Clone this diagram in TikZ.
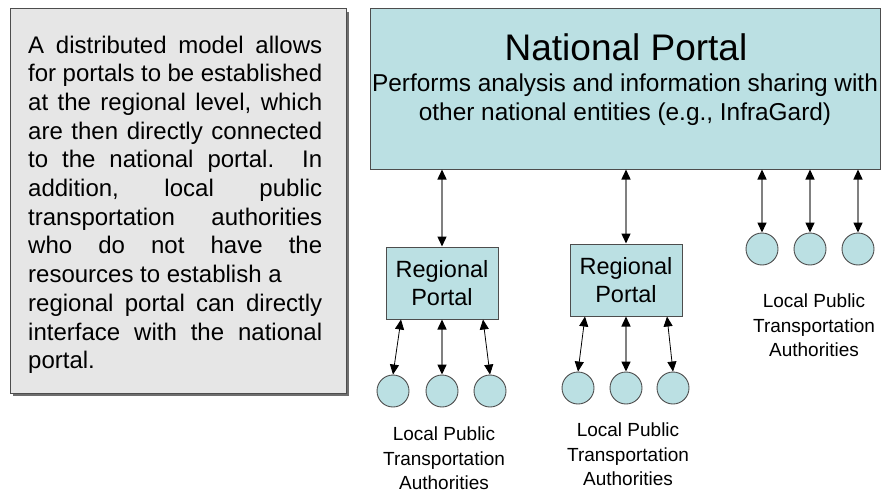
\documentclass[tikz,border=0pt]{standalone}
\usepackage{fontspec}
\setmainfont{Liberation Sans}
\usetikzlibrary{arrows.meta,shadows}
\definecolor{portalfill}{RGB}{187,224,227}
\definecolor{boxline}{RGB}{77,77,77}
\definecolor{notefill}{RGB}{230,230,230}
\definecolor{shadowgray}{RGB}{110,110,110}
\definecolor{linkgray}{RGB}{128,128,128}
\tikzset{
  notebox/.style={draw=boxline, fill=notefill, line width=1pt, inner sep=0pt,
    drop shadow={shadow xshift=3pt, shadow yshift=-3pt, fill=shadowgray, opacity=1}},
  portal/.style={draw=boxline, fill=portalfill, line width=1pt, inner sep=0pt},
  lpta/.style={circle, draw=boxline, fill=portalfill, line width=0.9pt, minimum size=32pt, inner sep=0pt},
  link/.style={draw=linkgray, line width=1.4pt,
    {Triangle[length=10pt,width=9pt,color=black]}-{Triangle[length=10pt,width=9pt,color=black]}},
  slant/.style={link, draw=black, line width=0.8pt},
  txt/.style={inner sep=0pt, font=\fontsize{23.5}{27}\selectfont},
  nattxt/.style={inner sep=0pt, font=\fontsize{24.4}{28}\selectfont},
  lbl/.style={inner sep=0pt, align=center, font=\fontsize{19}{24.5}\selectfont},
}
\begin{document}
\begin{tikzpicture}[x=1pt,y=-1pt]
\useasboundingbox (0,0) rectangle (886,495);

% left note
\node[notebox, minimum width=336pt, minimum height=384pt] (note) at (178,201) {};
\node[anchor=base west, inner sep=0pt] (notetext) at (28,53) {\vtop{\hsize=294pt\fontsize{24}{28.7}\selectfont
\hbox to 294pt{A\hfil distributed\hfil model\hfil allows}
\hbox to 294pt{for\hfil portals\hfil to\hfil be\hfil established}
\hbox to 294pt{at\hfil the\hfil regional\hfil level,\hfil which}
\hbox to 294pt{are\hfil then\hfil directly\hfil connected}
\hbox to 294pt{to\hfil the\hfil national\hfil portal.\hfil\hfil In}
\hbox to 294pt{addition,\hfil local\hfil public}
\hbox to 294pt{transportation\hfil authorities}
\hbox to 294pt{who\hfil do\hfil not\hfil have\hfil the}
\hbox{resources to establish a}
\hbox to 294pt{regional\hfil portal\hfil can\hfil directly}
\hbox to 294pt{interface\hfil with\hfil the\hfil national}
\hbox{portal.}}};

% national portal
\node[portal, minimum width=510pt, minimum height=160pt] (nat) at (625,89) {};
\node[inner sep=0pt, font=\fontsize{37}{41}\selectfont, anchor=base] (natT) at (626,60) {National Portal};
\node[nattxt, anchor=base] (natL1) at (625,92) {Performs analysis and information sharing with};
\node[nattxt, anchor=base] (natL2) at (625,120) {other national entities (e.g., InfraGard)};

% regional portals
\node[portal, minimum width=112pt, minimum height=72pt] (r1) at (442,283) {};
\node[txt, anchor=base] (r1a) at (442,277) {Regional};
\node[txt, anchor=base] (r1b) at (442,305) {Portal};
\node[portal, minimum width=112pt, minimum height=72pt] (r2) at (626,280) {};
\node[txt, anchor=base] (r2a) at (626,274) {Regional};
\node[txt, anchor=base] (r2b) at (626,302) {Portal};

% local authorities
\node[lpta] (a1) at (393,391) {};
\node[lpta] (a2) at (442,391) {};
\node[lpta] (a3) at (490,391) {};
\node[lpta] (b1) at (578,388) {};
\node[lpta] (b2) at (626,388) {};
\node[lpta] (b3) at (673,388) {};
\node[lpta] (c1) at (762,249) {};
\node[lpta] (c2) at (810,249) {};
\node[lpta] (c3) at (858,249) {};

% connectors
\draw[link] (r1.north |- nat.south) -- (r1.north);
\draw[link] (r2.north |- nat.south) -- (r2.north);
\draw[link] (c1.north |- nat.south) -- (c1.north);
\draw[link] (c2.north |- nat.south) -- (c2.north);
\draw[link] (c3.north |- nat.south) -- (c3.north);
\draw[slant] ([xshift=-41pt]r1.south) -- (a1.north);
\draw[link] (r1.south) -- (a2.north);
\draw[slant] ([xshift=41pt]r1.south) -- (a3.north);
\draw[slant] ([xshift=-41pt]r2.south) -- (b1.north);
\draw[link] (r2.south) -- (b2.north);
\draw[slant] ([xshift=41pt]r2.south) -- (b3.north);

% labels
\node[lbl, anchor=north] (la) at (444,427) {Local Public\\Transportation\\Authorities};
\node[lbl, anchor=north] (lb) at (628,423) {Local Public\\Transportation\\Authorities};
\node[lbl, anchor=north] (lc) at (814,294) {Local Public\\Transportation\\Authorities};
\end{tikzpicture}
\end{document}
